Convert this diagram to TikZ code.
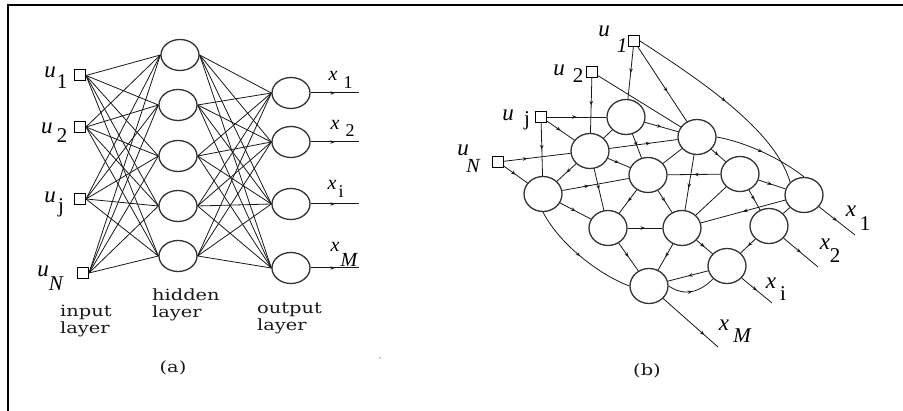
\documentclass[tikz,border=0pt]{standalone}
\usepackage{fontspec}
\setmainfont{DejaVu Serif}
\newfontfamily\labfont[FakeStretch=1.25]{DejaVu Serif}
\newfontfamily\symfont{Liberation Serif}
\usetikzlibrary{shapes.geometric,arrows.meta,decorations.markings}
\begin{document}
\begin{tikzpicture}[x=1pt,y=-1pt,
  neuron/.style={ellipse,draw=black!80,line width=1.3pt,minimum width=38pt,minimum height=31pt,inner sep=0pt},
  neuronb/.style={neuron,minimum height=35pt},
  inbox/.style={rectangle,draw=black,line width=1pt,minimum size=11pt,inner sep=0pt},
  wire/.style={draw=black!90,line width=0.8pt},
  ma/.style={postaction={decorate},decoration={markings,mark=at position #1 with {\arrow{Stealth[length=4.5pt,width=3.6pt]}}}},
  ma/.default=0.5,
  txt/.style={font=\labfont\fontsize{15.5}{16.5}\selectfont,align=left,inner sep=0pt,text=black!90},
  let/.style={font=\symfont\itshape\fontsize{#1}{#1}\selectfont,inner sep=0pt},
  let/.default=23,
  sub/.style={font=\symfont\fontsize{#1}{#1}\selectfont,inner sep=0pt},
  sub/.default=21,
  subi/.style={font=\symfont\itshape\fontsize{#1}{#1}\selectfont,inner sep=0pt},
  subi/.default=21]
\useasboundingbox (0,0) rectangle (903,411);
% frame
\draw[line width=2.6pt] (8,411) -- (8,5) -- (903,5);
% ================= (a) =================
\node[inbox] (i1) at (80,75.5) {};
\node[inbox] (i2) at (80,127) {};
\node[inbox] (i3) at (80,199) {};
\node[inbox] (i4) at (83,273) {};
\node[neuron] (h1) at (180,55) {};
\node[neuron] (h2) at (178,105) {};
\node[neuron] (h3) at (178,156) {};
\node[neuron] (h4) at (178,206) {};
\node[neuron] (h5) at (178,256) {};
\node[neuron] (o1) at (291,93) {};
\node[neuron] (o2) at (291,142) {};
\node[neuron] (o3) at (291,204) {};
\node[neuron] (o4) at (291,268) {};
\coordinate (oe1) at (359,93);
\coordinate (oe2) at (359,142);
\coordinate (oe3) at (359,204);
\coordinate (oe4) at (359,268);
\foreach \i in {1,...,4} \foreach \h in {1,...,5} \draw[wire] (i\i.east) -- (h\h.west);
\foreach \h in {1,...,5} \foreach \o in {1,...,4} \draw[wire] (h\h.east) -- (o\o.west);
\foreach \o in {1,...,4} \draw[wire,line width=1pt,ma=0.5] (o\o.east) -- (oe\o);
% labels (a)
\node[let] (lu1) at (50,72) {u}; \node[sub] (lu1s) at (62,82) {1};
\node[let] (lu2) at (47,128) {u}; \node[sub] (lu2s) at (62,136) {2};
\node[let] (lu3) at (50,197) {u}; \node[sub] (lu3s) at (61,208) {j};
\node[let] (lu4) at (43,271) {u}; \node[subi] (lu4s) at (56,284) {N};
\node[let=20] (lx1) at (333,76) {x}; \node[sub=18] (lx1s) at (348,83) {1};
\node[let=20] (lx2) at (335,125) {x}; \node[sub=18] (lx2s) at (350,131) {2};
\node[let=20] (lx3) at (332,185) {x}; \node[sub=18] (lx3s) at (341,192) {i};
\node[let=20] (lx4) at (335,247) {x}; \node[subi=20] (lx4s) at (349,260) {M};
\node[txt,anchor=north west] (tin) at (60,305) {input\\layer};
\node[txt,anchor=north west] (thid) at (152,289) {hidden\\layer};
\node[txt,anchor=north west] (tout) at (257,303) {output\\layer};
\node[txt] (ta) at (173,368) {(a)};
\fill[black!40] (380,358) circle (0.9pt);
% ================= (b) =================
\node[inbox] (s1) at (634,41) {};
\node[inbox] (s2) at (592,72) {};
\node[inbox] (sj) at (541,117) {};
\node[inbox] (sN) at (498,162) {};
\node[neuronb] (A) at (626,117) {};
\node[neuronb] (B) at (697,137) {};
\node[neuronb] (C) at (590,151) {};
\node[neuronb] (D) at (648,175) {};
\node[neuronb] (E) at (740,174) {};
\node[neuronb] (F) at (543,194) {};
\node[neuronb] (G) at (804,195) {};
\node[neuronb] (H) at (608,228) {};
\node[neuronb] (I) at (682,228) {};
\node[neuronb] (J) at (769,226) {};
\node[neuronb] (K) at (727,266) {};
\node[neuronb] (L) at (649,286) {};
\coordinate (y1) at (855,235);
\coordinate (y2) at (818,267);
\coordinate (y3) at (772,303);
\coordinate (y4) at (718,347);
% inputs
\draw[wire,ma] (s1) -- (A);
\draw[wire,ma=0.6] (s1) -- (B);
\draw[wire,ma] (s1.east) .. controls (700,80) and (775,130) .. (G.north west);
\draw[wire,ma] (s2) -- (C);
\draw[wire] (s2) -- (B);
\draw[wire,ma] (sj) -- (A);
\draw[wire,ma] (sj) -- (C);
\draw[wire,ma] (sj) -- (F);
\draw[wire,ma=0.35] (sN) -- (C);
\draw[wire,ma] (sN) -- (F);
% internal
\draw[wire,ma] (A) -- (B);
\draw[wire,ma] (A) -- (D);
\draw[wire] (A) -- (C);
\draw[wire,ma=0.6] (C) -- (B);
\draw[wire,ma] (C) -- (D);
\draw[wire,ma] (C) -- (F);
\draw[wire,ma] (C) -- (H);
\draw[wire,ma=0.4] (F) -- (D);
\draw[wire,ma] (F) -- (H);
\draw[wire,ma] (F.south) .. controls (560,245) and (600,275) .. (L.west);
\draw[wire,ma] (D) -- (H);
\draw[wire,ma] (D) -- (I);
\draw[wire] (D) -- (B);
\draw[wire,ma] (E) -- (D);
\draw[wire,ma] (H) -- (I);
\draw[wire,ma] (H) -- (L);
\draw[wire,ma] (I) -- (L);
\draw[wire,ma] (I) -- (K);
\draw[wire,ma=0.6] (B) -- (I);
\draw[wire,ma] (B) -- (E);
\draw[wire,ma] (B.east) .. controls (745,142) and (780,158) .. (G.north);
\draw[wire,ma] (E) -- (G);
\draw[wire,ma] (E) -- (J);
\draw[wire] (E) -- (I);
\draw[wire,ma] (G) -- (I);
\draw[wire] (G) -- (J);
\draw[wire,ma] (J) -- (K);
\draw[wire,ma] (K) -- (L);
\draw[wire,ma] (L.east) .. controls (685,297) and (700,292) .. (K.south west);
% outputs
\draw[wire,ma] (G) -- (y1);
\draw[wire,ma] (J) -- (y2);
\draw[wire,ma] (K) -- (y3);
\draw[wire,ma=0.75] (L) -- (y4);
% labels (b)
\node[let] (bu1) at (604,31) {u}; \node[subi] (bu1s) at (622,46) {1};
\node[let] (bu2) at (559,70) {u}; \node[sub] (bu2s) at (578,76) {2};
\node[let] (bu3) at (508,115) {u}; \node[sub] (bu3s) at (527,121) {j};
\node[let] (bu4) at (463,150) {u}; \node[subi=20] (bu4s) at (473,166) {N};
\node[let] (bx1) at (851,211) {x}; \node[sub] (bx1s) at (865,224) {1};
\node[let] (bx2) at (825,244) {x}; \node[sub] (bx2s) at (835,256) {2};
\node[let] (bx3) at (771,283) {x}; \node[sub] (bx3s) at (783,294) {i};
\node[let] (bx4) at (724,325) {x}; \node[subi] (bx4s) at (742,336) {M};
\node[txt] (tb) at (647,371) {(b)};
\end{tikzpicture}
\end{document}
